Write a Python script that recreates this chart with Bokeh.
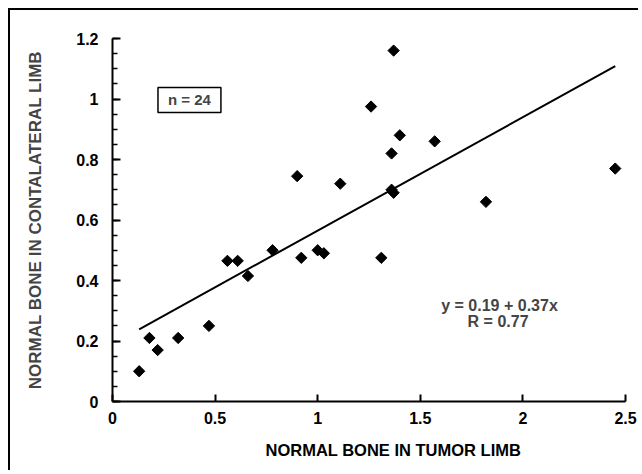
import math
from bokeh.plotting import figure
from bokeh.models import Range1d, FixedTicker, NumeralTickFormatter, Label, Title, ColumnDataSource
from bokeh.embed import file_html
from bokeh.resources import INLINE

# Data
tumor_limb = [0.13, 0.18, 0.22, 0.32, 0.47, 0.56, 0.61, 0.66, 0.78, 0.90, 0.92, 1.00,
              1.03, 1.11, 1.26, 1.31, 1.36, 1.37, 1.36, 1.37, 1.40, 1.57, 1.82, 2.45]
contralateral_limb = [0.10, 0.21, 0.17, 0.21, 0.25, 0.465, 0.465, 0.415, 0.50, 0.745, 0.475, 0.50,
                      0.49, 0.72, 0.975, 0.475, 0.70, 0.69, 0.82, 1.16, 0.88, 0.86, 0.66, 0.77]
fit_intercept = 0.19
fit_slope = 0.375
fit_x = [min(tumor_limb), max(tumor_limb)]
fit_y = [fit_intercept + fit_slope * v for v in fit_x]

x_ticks = [0, 0.5, 1, 1.5, 2, 2.5]
y_ticks = [0, 0.2, 0.4, 0.6, 0.8, 1.0, 1.2]
y_minor_ticks = [round(i * 0.05, 2) for i in range(25)]

x_title = "NORMAL BONE IN TUMOR LIMB"
y_title = "NORMAL BONE IN CONTALATERAL LIMB"
n_text = "n = 24"
eq_text = "y = 0.19 + 0.37x"
r_text = "R = 0.77"

FONT = "Liberation Sans"

p = figure(width=630, height=462, output_backend="svg", toolbar_location=None,
           x_range=Range1d(0, 2.5), y_range=Range1d(0, 1.2),
           min_border_left=102, min_border_right=15, min_border_top=28, min_border_bottom=71)
p.styles = {"margin-left": "8px", "margin-top": "8px",
            "border-top": "2px solid black", "border-left": "2px solid black"}
p.outline_line_color = None
p.xgrid.visible = False
p.ygrid.visible = False
p.background_fill_color = "white"
p.border_fill_color = "white"

# axes
p.xaxis.ticker = FixedTicker(ticks=x_ticks)
p.yaxis.ticker = FixedTicker(ticks=y_ticks, minor_ticks=y_minor_ticks)
for ax in (p.xaxis, p.yaxis):
    ax.formatter = NumeralTickFormatter(format="0.[0]")
    ax.axis_line_width = 2
    ax.axis_line_color = "black"
    ax.major_tick_line_width = 2
    ax.minor_tick_line_width = 1.5
    ax.major_tick_out = 0
    ax.minor_tick_out = 0
    ax.major_label_text_font = FONT
    ax.major_label_text_font_style = "bold"
    ax.major_label_text_font_size = "16px"
    ax.major_label_text_color = "black"
p.xaxis.major_tick_in = 7
p.yaxis.major_tick_in = 8
p.yaxis.minor_tick_in = 5
p.xaxis.major_label_standoff = 10
p.yaxis.major_label_standoff = 14

p.yaxis.axis_label = y_title
p.yaxis.axis_label_text_font = FONT
p.yaxis.axis_label_text_font_style = "bold"
p.yaxis.axis_label_text_font_size = "17px"
p.yaxis.axis_label_standoff = 28

# x-axis title (offset to the right as in the reference)
p.add_layout(Title(text=x_title, align="left", offset=153, standoff=24,
                   text_font=FONT, text_font_style="bold", text_font_size="16.5px",
                   text_color="black"), "below")

# regression line and points
p.line(fit_x, fit_y, line_color="black", line_width=2)
src = ColumnDataSource(dict(x=tumor_limb, y=contralateral_limb))
p.scatter("x", "y", source=src, marker="square", angle=math.pi / 4, size=8,
          fill_color="black", line_color="black")

# n box
p.add_layout(Label(x=0.375, y=0.997, text=n_text, text_align="center", text_baseline="middle",
                   text_font=FONT, text_font_style="bold", text_font_size="15px",
                   border_line_color="black", border_line_width=1.5,
                   background_fill_color="white", padding=(10, 4)))

# equation
p.add_layout(Label(x=1.886, y=0.318, text=eq_text, text_align="center", text_baseline="middle",
                   text_font=FONT, text_font_style="bold", text_font_size="16px"))
p.add_layout(Label(x=1.879, y=0.265, text=r_text, text_align="center", text_baseline="middle",
                   text_font=FONT, text_font_style="bold", text_font_size="16px"))

open("out.html", "w").write(file_html(p, INLINE))
